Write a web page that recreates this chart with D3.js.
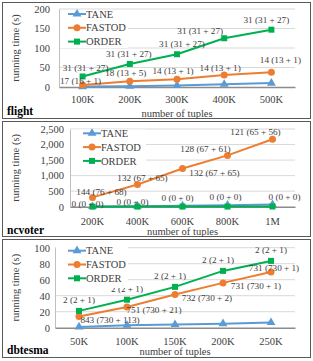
<!DOCTYPE html>
<html>
<head>
<meta charset="utf-8">
<script src="https://cdn.jsdelivr.net/npm/d3@7"></script>
<style>
  body { margin: 0; background: #fff; }
  svg text { font-family: "Liberation Serif", "Times New Roman", serif; }
</style>
</head>
<body>
<svg id="chart" width="313" height="361"></svg>
<script>
// ---- data ----
const seriesNames = ["TANE", "FASTOD", "ORDER"];

const flightTuples = ["100K", "200K", "300K", "400K", "500K"];
const flightTane = [1, 2, 4, 7, 10];
const flightFastod = [5, 15, 20, 31, 38];
const flightOrder = [27, 59, 84, 125, 147];
const flightFastodLabels = ["17 (16 + 1)", "18 (13 + 5)", "14 (13 + 1)", "14 (13 + 1)", "14 (13 + 1)"];
const flightOrderLabels = ["31 (31 + 27)", "31 (31 + 27)", "31 (31 + 27)", "31 (31 + 27)", "31 (31 + 27)"];
const flightYTicks = [0, 50, 100, 150, 200];

const ncvoterTuples = ["200K", "400K", "600K", "800K", "1M"];
const ncvoterTane = [5, 15, 30, 50, 70];
const ncvoterFastod = [300, 715, 1230, 1650, 2170];
const ncvoterOrder = [2, 3, 4, 5, 6];
const ncvoterFastodLabels = ["144 (76 + 68)", "132 (67 + 65)", "132 (67 + 65)", "128 (67 + 61)", "121 (65 + 56)"];
const ncvoterOrderLabels = ["0 (0 + 0)", "0 (0 + 0)", "0 (0 + 0)", "0 (0 + 0)", "0 (0 + 0)"];
const ncvoterYTicks = [0, 500, 1000, 1500, 2000, 2500];

const dbtesmaTuples = ["50K", "100K", "150K", "200K", "250K"];
const dbtesmaTane = [1, 3, 4, 5, 6.5];
const dbtesmaFastod = [14, 26, 41.5, 56, 69.5];
const dbtesmaOrder = [21, 35, 51, 71, 83.5];
const dbtesmaFastodLabels = ["843 (730 + 113)", "751 (730 + 21)", "732 (730 + 2)", "731 (730 + 1)", "731 (730 + 1)"];
const dbtesmaOrderLabels = ["2 (2 + 1)", "2 (2 + 1)", "2 (2 + 1)", "2 (2 + 1)", "2 (2 + 1)"];
const dbtesmaYTicks = [0, 20, 40, 60, 80, 100];

// ---- layout (label nudges in px, relative to the point) ----
const colors = { TANE: "#5b9bd5", FASTOD: "#ed7d31", ORDER: "#00b050" };
const FONT = "Liberation Serif, Times New Roman, serif";

const panels = [
  {
    name: "flight", box: [2, 2, 310, 118], x0: 59, x1: 295, yTop: 9, yBot: 87,
    cats: flightTuples, ticks: flightYTicks, fmt: d3.format("d"), tickPad: 9,
    series: { TANE: flightTane, FASTOD: flightFastod, ORDER: flightOrder },
    labels: { FASTOD: flightFastodLabels, ORDER: flightOrderLabels },
    nudge: {
      FASTOD: [[-2, -4], [-4, -8], [-4, -8], [-4, -7], [9, -12]],
      ORDER: [[3, -9], [-1, -10], [5, -10], [-24, -7], [-5, -10]]
    },
    legend: { x: 68, y: 14, box: [60, 10, 128, 48] },
    xTickY: 99, titleY: 113, yTitleX: 15
  },
  {
    name: "ncvoter", box: [2, 121, 310, 236], x0: 70, x1: 295, yTop: 129, yBot: 206.7,
    cats: ncvoterTuples, ticks: ncvoterYTicks, fmt: d3.format(","), tickPad: 6,
    series: { TANE: ncvoterTane, FASTOD: ncvoterFastod, ORDER: ncvoterOrder },
    labels: { FASTOD: ncvoterFastodLabels, ORDER: ncvoterOrderLabels },
    nudge: {
      FASTOD: [[9, -6], [5, -7], [32, 4], [-22, -7], [-17, -7]],
      ORDER: [[-5, -3], [-5, -5], [-5, -9], [-2, -10], [12, -10]]
    },
    legend: { x: 83, y: 133.3, box: [71, 129.5, 146, 168] },
    xTickY: 221.7, titleY: 231.7, yTitleX: 15
  },
  {
    name: "dbtesma", box: [2, 239, 310, 357], x0: 55, x1: 295, yTop: 247.7, yBot: 327.7,
    cats: dbtesmaTuples, ticks: dbtesmaYTicks, fmt: d3.format("d"), tickPad: 5,
    series: { TANE: dbtesmaTane, FASTOD: dbtesmaFastod, ORDER: dbtesmaOrder },
    labels: { FASTOD: dbtesmaFastodLabels, ORDER: dbtesmaOrderLabels },
    nudge: {
      FASTOD: [[31, 3], [27, 3], [32, 3], [33, 3], [3, -4]],
      ORDER: [[0, -11], [0, -11], [-5, -11], [-5, -11], [0, -11]]
    },
    legend: { x: 68, y: 250.7, box: [56, 242, 128, 288] },
    xTickY: 341.7, titleY: 351.7, yTitleX: 15
  }
];

const svg = d3.select("#chart");

function drawMarker(g, name, cx, cy) {
  if (name === "TANE") {
    g.append("path")
      .attr("d", d3.symbol(d3.symbolTriangle, 34)())
      .attr("transform", `translate(${cx},${cy})`)
      .attr("fill", colors[name]);
  } else if (name === "FASTOD") {
    g.append("circle").attr("cx", cx).attr("cy", cy).attr("r", 3.5).attr("fill", colors[name]);
  } else {
    g.append("rect").attr("x", cx - 3).attr("y", cy - 3).attr("width", 6).attr("height", 6).attr("fill", colors[name]);
  }
}

panels.forEach(p => {
  const g = svg.append("g").attr("font-family", FONT);

  // frame
  g.append("rect")
    .attr("x", p.box[0] + 0.5).attr("y", p.box[1] + 0.5)
    .attr("width", p.box[2] - p.box[0]).attr("height", p.box[3] - p.box[1])
    .attr("fill", "none").attr("stroke", "#595959").attr("stroke-width", 1);

  const x = d3.scaleBand().domain(p.cats).range([p.x0, p.x1]);
  const y = d3.scaleLinear().domain([p.ticks[0], p.ticks[p.ticks.length - 1]]).range([p.yBot, p.yTop]);
  const cx = c => x(c) + x.bandwidth() / 2;

  // gridlines
  g.append("g").selectAll("line")
    .data(p.ticks.slice(1))
    .enter().append("line")
    .attr("x1", p.x0).attr("x2", p.x1)
    .attr("y1", d => y(d)).attr("y2", d => y(d))
    .attr("stroke", "#d9d9d9").attr("stroke-width", 1);

  // y axis
  const yAxis = g.append("g")
    .attr("transform", `translate(${p.x0},0)`)
    .call(d3.axisLeft(y).tickValues(p.ticks).tickFormat(p.fmt).tickSize(0).tickPadding(p.tickPad))
    .attr("font-family", FONT);
  yAxis.select(".domain").attr("stroke", "#bfbfbf");
  yAxis.selectAll("text").attr("font-size", 10.5).attr("fill", "#404040");

  // x axis
  const xAxis = g.append("g")
    .attr("transform", `translate(0,${p.yBot})`)
    .call(d3.axisBottom(x).tickSize(0).tickPadding(0))
    .attr("font-family", FONT);
  xAxis.select(".domain").attr("stroke", "#8c8c8c").attr("stroke-width", 1.5);
  xAxis.selectAll("text")
    .attr("y", p.xTickY - p.yBot).attr("dy", "0.35em")
    .attr("font-size", 10.5).attr("fill", "#404040");

  // axis titles
  g.append("text")
    .attr("x", (p.x0 + p.x1) / 2).attr("y", p.titleY).attr("dy", "0.35em")
    .attr("text-anchor", "middle").attr("font-size", 10.5).attr("fill", "#404040")
    .text("number of tuples");
  g.append("text")
    .attr("transform", `translate(${p.yTitleX},${(p.yTop + p.yBot) / 2}) rotate(-90)`)
    .attr("dy", "0.35em").attr("text-anchor", "middle")
    .attr("font-size", 10.5).attr("fill", "#404040")
    .text("running time (s)");
  g.append("text")
    .attr("x", 7).attr("y", p.titleY - 2).attr("dy", "0.35em")
    .attr("font-size", 11.5).attr("font-weight", "bold").attr("fill", "#000")
    .text(p.name);

  // series
  seriesNames.forEach(name => {
    const vals = p.series[name];
    const pts = p.cats.map((c, i) => [cx(c), y(vals[i])]);
    g.append("path")
      .attr("d", d3.line()(pts))
      .attr("fill", "none").attr("stroke", colors[name]).attr("stroke-width", 2);
    const mg = g.append("g");
    pts.forEach(pt => drawMarker(mg, name, pt[0], pt[1]));
  });

  // data labels
  Object.keys(p.labels).forEach(name => {
    const vals = p.series[name];
    g.append("g").selectAll("text")
      .data(p.labels[name])
      .enter().append("text")
      .attr("x", (d, i) => cx(p.cats[i]) + p.nudge[name][i][0])
      .attr("y", (d, i) => y(vals[i]) + p.nudge[name][i][1])
      .attr("dy", "0.35em").attr("text-anchor", "middle")
      .attr("font-size", 9.2).attr("fill", "#404040")
      .text(d => d);
  });

  // legend
  const lb = p.legend.box;
  g.append("rect").attr("x", lb[0]).attr("y", lb[1])
    .attr("width", lb[2] - lb[0]).attr("height", lb[3] - lb[1]).attr("fill", "#fff");
  seriesNames.forEach((name, i) => {
    const ly = p.legend.y + i * 13.8;
    g.append("line")
      .attr("x1", p.legend.x).attr("x2", p.legend.x + 18)
      .attr("y1", ly).attr("y2", ly)
      .attr("stroke", colors[name]).attr("stroke-width", 2);
    drawMarker(g, name, p.legend.x + 9, ly);
    g.append("text")
      .attr("x", p.legend.x + 18).attr("y", ly).attr("dy", "0.35em")
      .attr("font-size", 10.5).attr("fill", "#404040")
      .text(name);
  });
});
</script>
</body>
</html>
